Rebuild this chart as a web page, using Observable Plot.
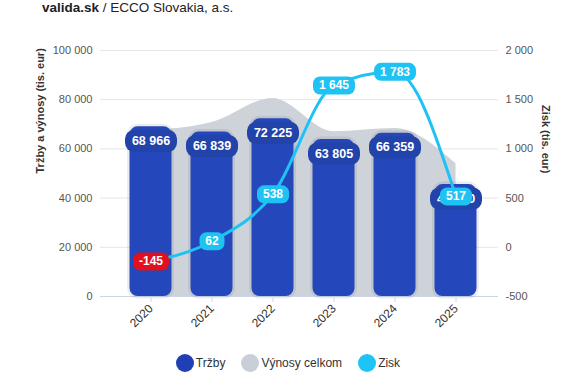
<!DOCTYPE html>
<html>
<head>
<meta charset="utf-8">
<script src="https://cdn.jsdelivr.net/npm/d3@7"></script>
<script src="https://cdn.jsdelivr.net/npm/@observablehq/plot@0.6"></script>
<style>
  body { margin: 0; background: #fff; font-family: "Liberation Sans", Arial, sans-serif; }
  #title { height: 22px; line-height: 15px; font-size: 13.5px; color: #222; padding-left: 42px; }
  #legend { display: flex; justify-content: center; align-items: center; margin-top: 7px; height: 18px; font-size: 12px; color: #333; margin-left: 0px; }
  .item { display: flex; align-items: center; margin: 0 8px; }
  .sw { width: 18px; height: 18px; border-radius: 50%; margin-right: 2px; }
</style>
</head>
<body>
<div id="title"><b>valida.sk</b> / ECCO Slovakia, a.s.</div>
<div id="chart"></div>
<div id="legend"></div>
<script>
const years = ["2020", "2021", "2022", "2023", "2024", "2025"];
const trzby = [68966, 66839, 72225, 63805, 66359, 45500];
const vynosy = [67500, 70700, 80500, 67000, 68300, 54000];
const zisk = [-145, 62, 538, 1645, 1783, 517];
const leftTicks = [0, 20000, 40000, 60000, 80000, 100000];
const rightTicks = [-500, 0, 500, 1000, 1500, 2000];
const seriesNames = ["Tržby", "Výnosy celkom", "Zisk"];
const seriesColors = ["#1f3fb6", "#c9cfd7", "#1ec4f6"];
const leftLabel = "Tržby a výnosy (tis. eur)";
const rightLabel = "Zisk (tis. eur)";

const loc = d3.formatLocale({decimal: ",", thousands: " ", grouping: [3], currency: ["", ""], minus: "-"});
const fmt = loc.format(",");
const toLeft = v => (v + 500) * 40;
const fromLeft = v => v / 40 - 500;

const data = years.map((y, i) => ({year: y, trzby: trzby[i], vynosy: vynosy[i], zisk: zisk[i], z: toLeft(zisk[i])}));

function roundBox(w, h, r) {
  return {
    draw(ctx) {
      const x0 = -w / 2, y0 = -h / 2, x1 = w / 2, y1 = h / 2;
      ctx.moveTo(x0 + r, y0);
      ctx.lineTo(x1 - r, y0);
      ctx.arcTo(x1, y0, x1, y0 + r, r);
      ctx.lineTo(x1, y1 - r);
      ctx.arcTo(x1, y1, x1 - r, y1, r);
      ctx.lineTo(x0 + r, y1);
      ctx.arcTo(x0, y1, x0, y1 - r, r);
      ctx.lineTo(x0, y0 + r);
      ctx.arcTo(x0, y0, x0 + r, y0, r);
      ctx.closePath();
    }
  };
}
function textW(s) {
  let w = 0;
  for (const c of s) w += c === " " ? 3.4 : c === "-" ? 4 : 6.7;
  return w;
}
const ziskWidths = Array.from(new Set(data.map(d => Math.round(textW(fmt(d.zisk)) + 12))));
const ziskBoxMarks = ziskWidths.map(w =>
  Plot.dot(data.filter(d => Math.round(textW(fmt(d.zisk)) + 12) === w), {
    x: "year", y: "z", symbol: roundBox(w, 18, 7),
    fill: d => d.zisk < 0 ? "#e0101f" : "#1fc3f3", stroke: "none"
  })
);

const chart = Plot.plot({
  width: 576,
  height: 325,
  marginTop: 28,
  marginBottom: 51,
  marginLeft: 100,
  marginRight: 78,
  style: {fontFamily: "'Liberation Sans', Arial, sans-serif", fontSize: "11px", background: "#fff"},
  x: {type: "band", domain: years, padding: 0, insetLeft: 18, insetRight: 10},
  y: {domain: [0, 100000]},
  marks: [
    Plot.gridY(leftTicks, {stroke: "#e6e6e6", strokeOpacity: 1}),
    Plot.areaY(data, {x: "year", y: "vynosy", curve: "monotone-x", fill: "#ced3da"}),
    Plot.ruleY([0], {stroke: "#ccd6eb"}),
    Plot.barY(data, {x: "year", y: "trzby", fill: "none", stroke: "#000", strokeOpacity: 0.07, strokeWidth: 5, insetLeft: 9.5, insetRight: 9.5, rx: 8}),
    Plot.barY(data, {x: "year", y: "trzby", fill: "#2447bb", insetLeft: 9.5, insetRight: 9.5, rx: 8}),
    Plot.dot(data, {x: "year", y: "trzby", symbol: roundBox(52, 22, 9), fill: "#2243a9", stroke: "none", dy: 14}),
    Plot.text(data, {x: "year", y: "trzby", text: d => fmt(d.trzby), dy: 14, fill: "white", fontWeight: "bold", fontSize: 12.5}),
    Plot.lineY(data, {x: "year", y: "z", curve: "monotone-x", stroke: "#1fc3f3", strokeWidth: 3}),
    ...ziskBoxMarks,
    Plot.text(data, {x: "year", y: "z", text: d => fmt(d.zisk), fill: "white", fontWeight: "bold", fontSize: 12}),
    Plot.axisY(leftTicks, {anchor: "left", tickSize: 0, tickPadding: 8, tickFormat: fmt, label: null, color: "#555"}),
    Plot.axisY(rightTicks.map(toLeft), {anchor: "right", tickSize: 0, tickPadding: 7, tickFormat: d => fmt(fromLeft(d)), label: null, color: "#555"}),
    Plot.axisX({tickRotate: -45, tickSize: 6, tickPadding: 4, fontSize: 12, label: null, color: "#333", stroke: "#ccd6eb"}),
    Plot.text([leftLabel], {frameAnchor: "left", rotate: -90, dx: -60, fontWeight: "bold", fontSize: 11, fill: "#333"}),
    Plot.text([rightLabel], {frameAnchor: "right", rotate: 90, dx: 47, fontWeight: "bold", fontSize: 11, fill: "#333"})
  ]
});
document.getElementById("chart").appendChild(chart);

const legend = document.getElementById("legend");
seriesNames.forEach((n, i) => {
  const it = document.createElement("div");
  it.className = "item";
  const sw = document.createElement("span");
  sw.className = "sw";
  sw.style.background = seriesColors[i];
  const t = document.createElement("span");
  t.textContent = n;
  it.appendChild(sw);
  it.appendChild(t);
  legend.appendChild(it);
});
</script>
</body>
</html>
